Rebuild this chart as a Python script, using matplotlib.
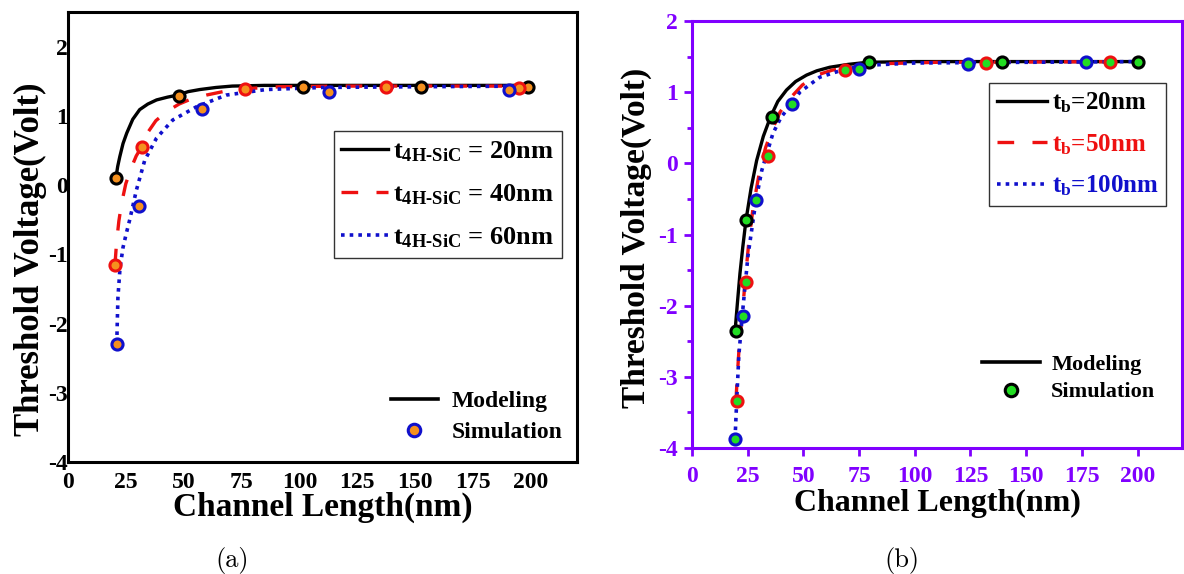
import matplotlib
matplotlib.use("Agg")
import matplotlib.pyplot as plt
from matplotlib.lines import Line2D

plt.rcParams['font.family'] = ['Liberation Serif', 'DejaVu Serif']
plt.rcParams['font.weight'] = 'bold'
plt.rcParams['axes.unicode_minus'] = False
plt.rcParams['mathtext.fontset'] = 'custom'
plt.rcParams['mathtext.rm'] = 'Liberation Serif:bold'
plt.rcParams['mathtext.bf'] = 'Liberation Serif:bold'
plt.rcParams['mathtext.it'] = 'Liberation Serif:bold'

# ---- panel (a): t_4H-SiC ----
a20_model_x = [20.7, 21.5, 22.4, 23.8, 25.4, 28, 31, 34.5, 38.3, 43, 47.4, 52, 57, 64, 71, 85, 100, 150, 200]
a20_model_y = [0.1, 0.27, 0.41, 0.6, 0.75, 0.95, 1.09, 1.17, 1.23, 1.27, 1.3, 1.35, 1.38, 1.41, 1.43, 1.44, 1.44, 1.44, 1.44]
a40_model_x = [20.3, 21, 22, 23.2, 25, 27.5, 29.5, 31.8, 34.7, 38, 42.6, 48, 53, 59.8, 67, 75.5, 91, 120, 200]
a40_model_y = [-1.16, -0.83, -0.52, -0.26, 0.02, 0.26, 0.42, 0.55, 0.77, 0.93, 1.06, 1.17, 1.24, 1.3, 1.35, 1.39, 1.42, 1.43, 1.43]
a60_model_x = [21.1, 21.3, 21.6, 22.5, 23.8, 25.2, 26.7, 29.6, 33.2, 38.3, 45.3, 55.5, 68.4, 85.6, 110, 150, 200]
a60_model_y = [-2.29, -2.0, -1.62, -1.2, -0.9, -0.7, -0.5, -0.07, 0.36, 0.68, 0.94, 1.13, 1.3, 1.38, 1.41, 1.42, 1.43]

a20_sim_x = [20.7, 47.8, 101.7, 152.6, 198.7]
a20_sim_y = [0.1, 1.29, 1.42, 1.42, 1.42]
a40_sim_x = [20.3, 31.8, 76.7, 137.5, 195]
a40_sim_y = [-1.16, 0.55, 1.39, 1.41, 1.40]
a60_sim_x = [21.1, 30.6, 57.9, 113, 190.5]
a60_sim_y = [-2.29, -0.3, 1.1, 1.34, 1.38]

# ---- panel (b): t_b ----
b20_model_x = [19.3, 20.4, 21.5, 22.8, 24.2, 26.5, 29, 32, 35.2, 38.5, 42.4, 46.5, 51.4, 56, 61.8, 70, 78.7, 100, 150, 200]
b20_model_y = [-2.36, -1.95, -1.55, -1.17, -0.8, -0.35, 0.04, 0.38, 0.65, 0.87, 1.03, 1.15, 1.24, 1.3, 1.35, 1.39, 1.42, 1.43, 1.43, 1.43]
b50_model_x = [19.7, 20.3, 21, 22, 23, 24, 25.5, 27.5, 30.4, 33, 35.8, 39.5, 43.9, 49.5, 56, 63, 72, 85, 110, 200]
b50_model_y = [-3.34, -3.0, -2.65, -2.3, -1.95, -1.6, -1.1, -0.6, -0.1, 0.22, 0.46, 0.72, 0.91, 1.1, 1.24, 1.31, 1.36, 1.4, 1.42, 1.43]
b100_model_x = [19.3, 20.2, 21, 22.8, 25.1, 28.7, 31.3, 36.3, 40, 44.8, 48.4, 57.3, 69.4, 80, 100, 150, 200]
b100_model_y = [-3.87, -3.23, -2.7, -2.05, -1.3, -0.52, -0.1, 0.42, 0.65, 0.84, 1.0, 1.21, 1.33, 1.38, 1.41, 1.42, 1.43]

b20_sim_x = [19.7, 24.2, 35.8, 79.3, 139, 200]
b20_sim_y = [-2.36, -0.79, 0.65, 1.43, 1.43, 1.42]
b50_sim_x = [20.1, 24.2, 34, 68.5, 132, 187.6]
b50_sim_y = [-3.34, -1.67, 0.11, 1.31, 1.41, 1.42]
b100_sim_x = [19.3, 22.8, 28.7, 44.8, 74.8, 124, 177]
b100_sim_y = [-3.88, -2.15, -0.52, 0.83, 1.32, 1.39, 1.43]

a_labels = [r'$\mathrm{t_{4H\text{-}SiC}}$ = 20nm', r'$\mathrm{t_{4H\text{-}SiC}}$ = 40nm',
            r'$\mathrm{t_{4H\text{-}SiC}}$ = 60nm']
b_labels = [r'$\mathrm{t_b}$=20nm', r'$\mathrm{t_b}$=50nm', r'$\mathrm{t_b}$=100nm']

ticks_x = [0, 25, 50, 75, 100, 125, 150, 175, 200]

RED = '#ee1111'
BLUE = '#1010cc'
ORANGE = '#f5901e'
GREEN = '#22dd22'
PURPLE = '#8000ff'
DASH = (0, (5, 5.5))
DOT = (0, (1, 1.4))

fig = plt.figure(figsize=(11.84, 5.74), dpi=100)

# ================= panel (a) =================
ax = fig.add_axes([0.0574, 0.1951, 0.4299, 0.784])
la1, = ax.plot(a20_model_x, a20_model_y, color='black', lw=2.4, ls='-')
la2, = ax.plot(a40_model_x, a40_model_y, color=RED, lw=2.4, ls=DASH)
la3, = ax.plot(a60_model_x, a60_model_y, color=BLUE, lw=2.6, ls=DOT)
for sx, sy, ec in [(a20_sim_x, a20_sim_y, 'black'), (a40_sim_x, a40_sim_y, RED), (a60_sim_x, a60_sim_y, BLUE)]:
    ax.plot(sx, sy, 'o', ms=8, mfc=ORANGE, mec=ec, mew=2.2, zorder=5)

ax.set_xlim(0, 220)
ax.set_ylim(-4, 2.5)
ax.set_xticks(ticks_x)
ax.set_yticks([-4, -3, -2, -1, 0, 1, 2])
ax.tick_params(length=0, labelsize=17)
ax.tick_params(axis='x', pad=7)
ax.tick_params(axis='y', pad=0)
for s in ax.spines.values():
    s.set_linewidth(2.2)
ax.set_xlabel('Channel Length(nm)', fontsize=24, fontweight='bold', labelpad=-1)
ax.set_ylabel('Threshold Voltage(Volt)', fontsize=25, fontweight='bold', va='center', ha='center')
ax.yaxis.set_label_coords(-0.074, 0.45)

leg1 = ax.legend([la1, la2, la3], a_labels, loc='upper right', bbox_to_anchor=(0.97, 0.735),
                 fontsize=19, frameon=True, fancybox=False, edgecolor='black', handlelength=1.75,
                 handletextpad=0.2, borderpad=0.3, labelspacing=0.7, borderaxespad=0)
leg1.get_frame().set_linewidth(1.0)
ax.add_artist(leg1)
h_mod = Line2D([], [], color='black', lw=2.6)
h_sim = Line2D([], [], ls='none', marker='o', ms=9, mfc=ORANGE, mec=BLUE, mew=2.2)
ax.legend([h_mod, h_sim], ['Modeling', 'Simulation'], loc='lower right', bbox_to_anchor=(1.0, 0.01),
          fontsize=17, frameon=False, handlelength=2.0, handletextpad=0.6, labelspacing=0.4,
          borderaxespad=0.2)

# ================= panel (b) =================
bx = fig.add_axes([0.5845, 0.2195, 0.4139, 0.7439])
lb1, = bx.plot(b20_model_x, b20_model_y, color='black', lw=2.4, ls='-')
lb2, = bx.plot(b50_model_x, b50_model_y, color=RED, lw=2.4, ls=DASH)
lb3, = bx.plot(b100_model_x, b100_model_y, color=BLUE, lw=2.6, ls=DOT)
for sx, sy, ec in [(b20_sim_x, b20_sim_y, 'black'), (b50_sim_x, b50_sim_y, RED), (b100_sim_x, b100_sim_y, BLUE)]:
    bx.plot(sx, sy, 'o', ms=8, mfc=GREEN, mec=ec, mew=2.2, zorder=5)

bx.set_xlim(0, 220)
bx.set_ylim(-4, 2)
bx.set_xticks(ticks_x)
bx.set_yticks([-4, -3, -2, -1, 0, 1, 2])
bx.set_yticks([-3.5, -2.5, -1.5, -0.5, 0.5, 1.5], minor=True)
bx.tick_params(which='major', length=6, width=2, color=PURPLE, labelcolor=PURPLE, labelsize=17)
bx.tick_params(which='minor', length=3.5, width=2, color=PURPLE)
bx.tick_params(axis='x', pad=7)
bx.tick_params(axis='y', pad=4)
for s in bx.spines.values():
    s.set_linewidth(2.2)
    s.set_color(PURPLE)
bx.set_xlabel('Channel Length(nm)', fontsize=23, fontweight='bold', labelpad=1)
bx.set_ylabel('Threshold Voltage(Volt)', fontsize=24, fontweight='bold', va='center', ha='center')
bx.yaxis.set_label_coords(-0.114, 0.493)

leg2 = bx.legend([lb1, lb2, lb3], b_labels, loc='upper right', bbox_to_anchor=(0.967, 0.855),
                 fontsize=18, frameon=True, fancybox=False, edgecolor='black', handlelength=2.0,
                 handletextpad=0.2, borderpad=0.3, labelspacing=0.68, borderaxespad=0)
leg2.get_frame().set_linewidth(1.0)
for t, c in zip(leg2.get_texts(), ['black', RED, BLUE]):
    t.set_color(c)
bx.add_artist(leg2)
h_mod_b = Line2D([], [], color='black', lw=2.6)
h_sim_b = Line2D([], [], ls='none', marker='o', ms=9, mfc=GREEN, mec='black', mew=2.2)
bx.legend([h_mod_b, h_sim_b], ['Modeling', 'Simulation'], loc='lower right', bbox_to_anchor=(0.986, 0.06),
          fontsize=16, frameon=False, handlelength=2.6, handletextpad=0.5, labelspacing=0.3)

fig.text(232 / 1184, 1 - 561 / 574, '(a)', fontsize=19, family='cmr10', fontweight='normal',
         ha='center', va='center')
fig.text(902 / 1184, 1 - 560 / 574, '(b)', fontsize=19, family='cmr10', fontweight='normal',
         ha='center', va='center')

fig.savefig('out.png', dpi=100)
